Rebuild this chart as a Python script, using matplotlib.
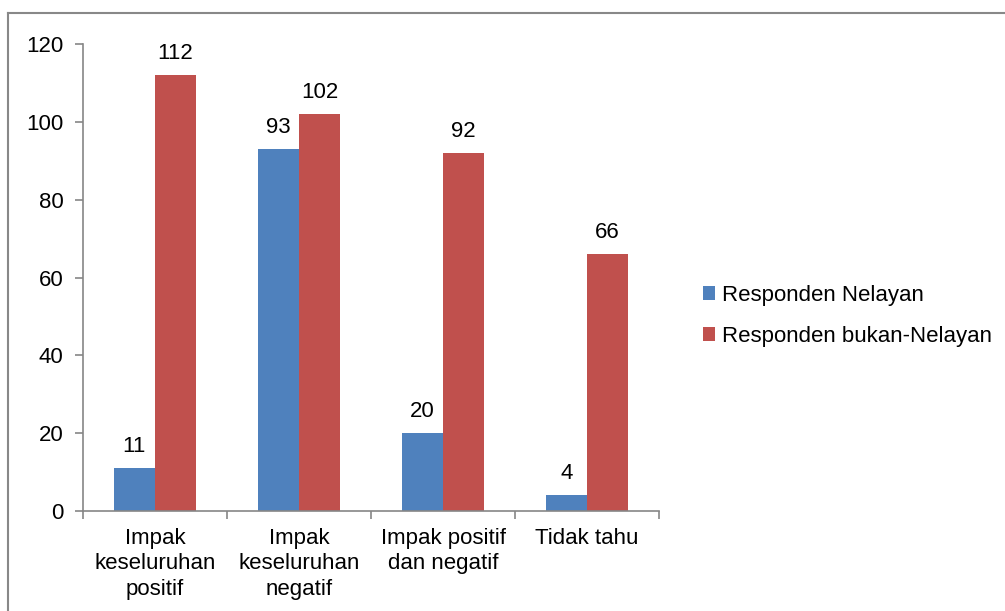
import matplotlib.pyplot as plt
import numpy as np
from matplotlib.lines import Line2D

categories = ["Impak\nkeseluruhan\npositif", "Impak\nkeseluruhan\nnegatif",
              "Impak positif\ndan negatif", "Tidak tahu"]
nelayan = [11, 93, 20, 4]
bukan_nelayan = [112, 102, 92, 66]
series_names = ["Responden Nelayan", "Responden bukan-Nelayan"]

plt.rcParams["font.family"] = ["Liberation Sans", "DejaVu Sans"]
plt.rcParams["font.size"] = 16

BLUE = "#4F81BD"
RED = "#C0504D"
GRAY = "#868686"

fig = plt.figure(figsize=(10.05, 6.11), dpi=100)
ax = fig.add_axes([83 / 1005, 1 - 511 / 611, 576 / 1005, 467 / 611])

x = np.arange(len(categories))
w = 1 / 3.5
b1 = ax.bar(x - w / 2, nelayan, w, color=BLUE, label=series_names[0])
b2 = ax.bar(x + w / 2, bukan_nelayan, w, color=RED, label=series_names[1])
for bars in (b1, b2):
    for r in bars:
        ax.annotate(f"{int(r.get_height())}", (r.get_x() + r.get_width() / 2, r.get_height()),
                    xytext=(0, 8), textcoords="offset points", ha="center", va="bottom")

ax.set_xlim(-0.5, len(categories) - 0.5)
ax.set_ylim(0, 120)
ax.set_yticks(range(0, 121, 20))
ax.set_xticks(x)
ax.set_xticklabels(categories, linespacing=1.3)
ax.set_xticks(np.arange(-0.5, len(categories)), minor=True)
ax.tick_params(axis="x", which="major", length=0, pad=12)
ax.tick_params(axis="x", which="minor", length=6, color=GRAY, width=1.2)
ax.tick_params(axis="y", length=6, color=GRAY, width=1.2, pad=8)
for s in ("top", "right"):
    ax.spines[s].set_visible(False)
for s in ("left", "bottom"):
    ax.spines[s].set_color(GRAY)
    ax.spines[s].set_linewidth(1.2)

ax.legend(loc="center left", bbox_to_anchor=(683 / 1005, 1 - 316 / 611), bbox_transform=fig.transFigure,
          frameon=False, handlelength=0.55, handleheight=0.55, handletextpad=0.3, labelspacing=0.9)

# outer chart border (only top and left visible in frame)
fig.add_artist(Line2D([8 / 1005, 1.01], [1 - 13 / 611] * 2, transform=fig.transFigure, color="#888888", lw=1.5))
fig.add_artist(Line2D([8 / 1005] * 2, [-0.01, 1 - 13 / 611], transform=fig.transFigure, color="#888888", lw=1.5))

fig.savefig("out.png", dpi=100)
